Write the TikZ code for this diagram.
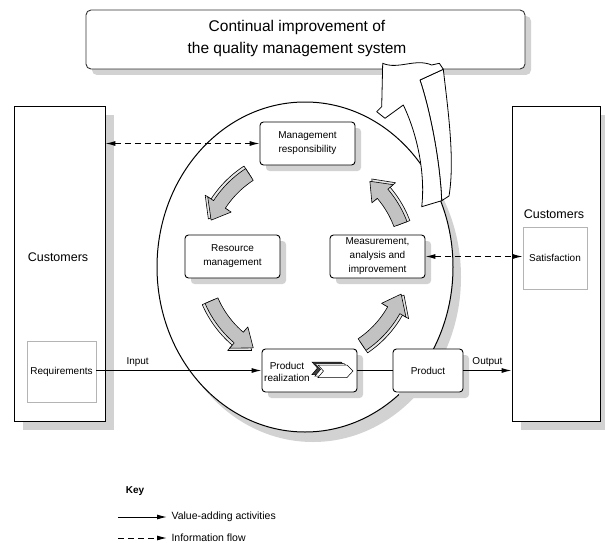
\documentclass[tikz,border=0pt]{standalone}
\usepackage{fontspec}
\setmainfont{Liberation Sans}
\usetikzlibrary{arrows.meta,shadows}
\definecolor{shd}{HTML}{D2D2D2}
\definecolor{agray}{HTML}{C2C2C2}
\definecolor{adepth}{HTML}{E6E6E6}
\definecolor{lgray}{HTML}{B4B4B4}
\tikzset{
  procbox/.style={draw=black, line width=0.9pt, rounded corners=3.5pt, fill=white,
    align=center, font=\fontsize{10}{14}\selectfont, inner sep=1pt,
    drop shadow={shadow xshift=6pt, shadow yshift=-6pt, fill=shd, opacity=1}},
  topbox/.style={draw=black!80, line width=0.9pt, rounded corners=5pt, fill=white, inner sep=0pt,
    drop shadow={shadow xshift=6pt, shadow yshift=-6pt, fill=shd, opacity=1}},
  custbox/.style={draw=black, line width=0.9pt, fill=white, inner sep=0pt,
    drop shadow={shadow xshift=9pt, shadow yshift=-9pt, fill=shd, opacity=1}},
  innerbox/.style={draw=lgray, line width=0.7pt, fill=white, inner sep=0pt,
    font=\fontsize{10}{12}\selectfont},
  bigtxt/.style={font=\fontsize{12.5}{15}\selectfont},
  lbl/.style={font=\fontsize{10}{12}\selectfont},
  tip/.style={-{Latex[length=10pt,width=5pt]}},
  value/.style={line width=1pt},
  info/.style={line width=1pt, dash pattern=on 6pt off 4pt},
  bigarrow/.style={draw=black, line width=0.8pt, fill=white, line join=round},
  arrowface/.style={draw=black, line width=0.6pt, fill=agray, line join=round},
  arrowdepth/.style={draw=black, line width=0.6pt, fill=adepth, line join=round},
}
\newcommand\cyclearrow[2]{%
  \pgfmathsetmacro\aA{#1}%
  \pgfmathsetmacro\aB{#2+10}%
  \pgfmathsetmacro\aC{#2}%
  \begin{scope}[shift={(305,260)}]
    \filldraw[arrowdepth] plot[domain=\aA:\aB,samples=12] (\x:112) -- (\aB:119) -- (\aC:105)
      -- (\aB:91) -- plot[domain=\aB:\aA,samples=12] (\x:98) -- cycle;
    \filldraw[arrowface] plot[domain=\aA:\aB,samples=12] (\x:109) -- (\aB:116) -- (\aC:102)
      -- (\aB:88) -- plot[domain=\aB:\aA,samples=12] (\x:95) -- cycle;
  \end{scope}}
\newcommand\chevshape[3]{%
  \filldraw[fill=#3, draw=black, line width=0.5pt, shift={(#1,#2)}]
    (318,365) -- (347,365) -- (353,371) -- (347,377.5) -- (318,377.5) -- (323.5,371) -- cycle;}
\begin{document}
\begin{tikzpicture}[x=1pt,y=-1pt]
\useasboundingbox (0,0) rectangle (605,543);
% ellipse with shadow
\fill[shd] (313,277) ellipse [x radius=148, y radius=165];
\filldraw[fill=white, line width=1pt] (305,267) ellipse [x radius=148, y radius=165];
% top box
\node[topbox, minimum width=439pt, minimum height=59pt] (top) at (305.5,39.5) {};
\node[font=\fontsize{15.5}{22}\selectfont, align=center] (toptxt) at (297,38)
  {Continual improvement of\\the quality management system};
% big improvement arrow
\filldraw[bigarrow] (443.3,69.3) .. controls (448,110) and (455,160) .. (449,196)
  -- (441.7,200.7) .. controls (440,160) and (430,110) .. (420,80) -- cycle;
\filldraw[bigarrow] (421.7,206.7) .. controls (425,180) and (420,140) .. (403.3,105)
  -- (385,118.3) -- (376.7,111.7) -- (381.7,106.7) -- (382.7,63.3)
  .. controls (398,70) and (415,58) .. (431.7,65) -- (439.3,63.3) -- (443.3,69.3)
  -- (420,80) .. controls (430,110) and (440,160) .. (441.7,200.7) -- cycle;
% customers
\node[custbox, minimum width=91pt, minimum height=315pt] (custL) at (59.5,263.5) {};
\node[bigtxt] (custLtxt) at (58,257) {Customers};
\node[innerbox, minimum width=69pt, minimum height=61pt] (req) at (61.5,371.5) {Requirements};
\node[custbox, minimum width=88pt, minimum height=315pt] (custR) at (556,263.5) {};
\node[bigtxt] (custRtxt) at (554,214) {Customers};
\node[innerbox, minimum width=64pt, minimum height=62pt] (sat) at (555,258) {Satisfaction};
% process boxes
\node[procbox, minimum width=95pt, minimum height=43pt] (mr) at (307.5,143.5) {Management\\responsibility};
\node[procbox, minimum width=95pt, minimum height=43pt] (rm) at (232.5,256.5) {Resource\\management};
\node[procbox, minimum width=95pt, minimum height=43pt] (meas) at (377.5,256.5) {Measurement,\\analysis and\\improvement};
\node[procbox, minimum width=95pt, minimum height=43pt] (pr) at (309.5,370.5) {};
\node[lbl, align=center] (prtxt) at (287,371.5) {Product\\realization};
\chevshape{-6}{-3}{black!75}
\chevshape{-3}{-1.5}{white}
\chevshape{0}{0}{white}
\node[procbox, minimum width=70pt, minimum height=43pt] (prod) at (428,370.5) {Product};
% cycle arrows
\cyclearrow{237}{203}
\cyclearrow{156.5}{120.5}
\cyclearrow{56}{19.5}
\cyclearrow{-20.6}{-50.5}
% connectors
\draw[info, {Latex[length=10pt,width=5pt]}-{Latex[length=10pt,width=5pt]}] (custL.east |- mr.west) -- (mr.west);
\draw[info, {Latex[length=10pt,width=5pt]}-{Latex[length=10pt,width=5pt]}] (meas.east) -- (meas.east -| sat.west);
\draw[value, tip] (req.east |- pr.west) -- node[lbl, above, pos=0.25] (inlbl) {Input} (pr.west);
\draw[value] (pr.east) -- (prod.west);
\draw[value, tip] (prod.east) -- node[lbl, above] (outlbl) {Output} (prod.east -| custR.west);
% key
\node[lbl, font=\fontsize{10}{12}\selectfont\bfseries] (key) at (135,491) {Key};
\coordinate (k1a) at (118,517);
\coordinate (k1b) at (167,517);
\coordinate (k2a) at (118,538);
\coordinate (k2b) at (167,538);
\draw[value, tip] (k1a) -- (k1b);
\draw[info, tip] (k2a) -- (k2b);
\node[font=\fontsize{10.5}{12}\selectfont, anchor=west] (k1t) at (168,517) {Value-adding activities};
\node[font=\fontsize{10.5}{12}\selectfont, anchor=west] (k2t) at (168,538) {Information flow};
\end{tikzpicture}
\end{document}
